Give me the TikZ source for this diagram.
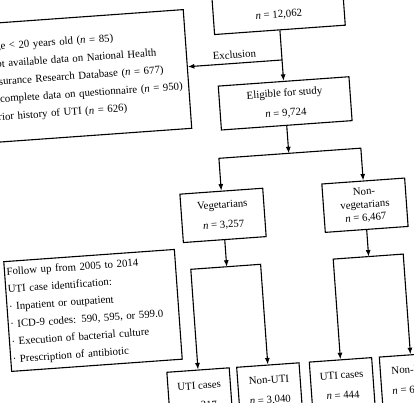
\documentclass[tikz,border=0pt]{standalone}
\usepackage{fontspec}
\setmainfont{Liberation Serif}
\usetikzlibrary{arrows.meta}

\tikzset{
  box/.style={draw, line width=1.1pt, align=center, inner sep=2pt},
  flow/.style={line width=1.1pt, -{Latex[length=6.5pt,width=5pt]}},
}

\begin{document}
\begin{tikzpicture}[x=1pt, y=1pt, font=\fontsize{10.8}{13}\selectfont]
  \useasboundingbox (0,0) rectangle (414,-403);
  \clip (0,0) rectangle (414,-403);

  \begin{scope}[rotate around={4.1:(207,-201.5)}, transform shape]
    % cohort and exclusion
    \node[box, minimum width=131pt, minimum height=45pt] (total) at (292,-13) {};
    \node (totaln) at (292,-20.6) {\textit{n} = 12,062};
    \node[box, minimum width=131pt, minimum height=44pt] (elig) at (292,-109.2) {Eligible for study\\[7pt]\textit{n} = 9,724};
    \node[box, text width=196pt, minimum height=119pt, align=left, font=\fontsize{10.8}{17.7}\selectfont] (excl) at (97,-67.9)
      {Age < 20 years old (\textit{n} = 85)\\
       Not available data on National Health\\
       Insurance Research Database (\textit{n} = 677)\\
       Incomplete data on questionnaire (\textit{n} = 950)\\
       Prior history of UTI (\textit{n} = 626)};
    \coordinate (cut) at (292,-65.7);
    \draw[flow] (total) -- (elig);
    \draw[flow] (cut) -- (cut -| excl.east) node[midway, above=1pt] {Exclusion};

    % diet groups
    \node[box, minimum width=83pt, minimum height=48.5pt] (veg) at (222,-216.5) {Vegetarians\\[7pt]\textit{n} = 3,257};
    \node[box, minimum width=83pt, minimum height=48.5pt] (nonveg) at (364.3,-216.5) {Non-\\vegetarians\\\textit{n} = 6,467};
    \coordinate (s1) at (292,-159.3);
    \draw[flow] (elig) -- (s1);
    \draw[flow] (s1) -| (veg);
    \draw[flow] (s1) -| (nonveg);

    % follow-up
    \node[box, text width=167pt, minimum height=110pt, align=left, font=\fontsize{10.8}{17.5}\selectfont] (follow) at (85.5,-302)
      {Follow up from 2005 to 2014\\
       UTI case identification:\\
       · Inpatient or outpatient\\
       · ICD-9 codes: 590, 595, or 599.0\\
       · Execution of bacterial culture\\
       · Prescription of antibiotic};

    % outcomes
    \node[box, minimum width=62.5pt, minimum height=51pt] (vuti) at (186,-394.5) {UTI cases\\[7pt]\textit{n} = 217};
    \node[box, minimum width=62.5pt, minimum height=51pt] (vnon) at (256,-394.5) {Non-UTI\\[7pt]\textit{n} = 3,040};
    \node[box, minimum width=62.5pt, minimum height=51pt] (nuti) at (328.8,-394.5) {UTI cases\\[7pt]\textit{n} = 444};
    \node[box, minimum width=62.5pt, minimum height=51pt] (nnon) at (399,-394.5) {Non-UTI\\[7pt]\textit{n} = 6,023};
    \coordinate (s2) at (222,-268);
    \coordinate (s3) at (364.3,-268);
    \draw[flow] (veg) -- (s2);
    \draw[flow] (s2) -| (vuti);
    \draw[flow] (s2) -| (vnon);
    \draw[flow] (nonveg) -- (s3);
    \draw[flow] (s3) -| (nuti);
    \draw[flow] (s3) -| (nnon);
  \end{scope}
\end{tikzpicture}
\end{document}
